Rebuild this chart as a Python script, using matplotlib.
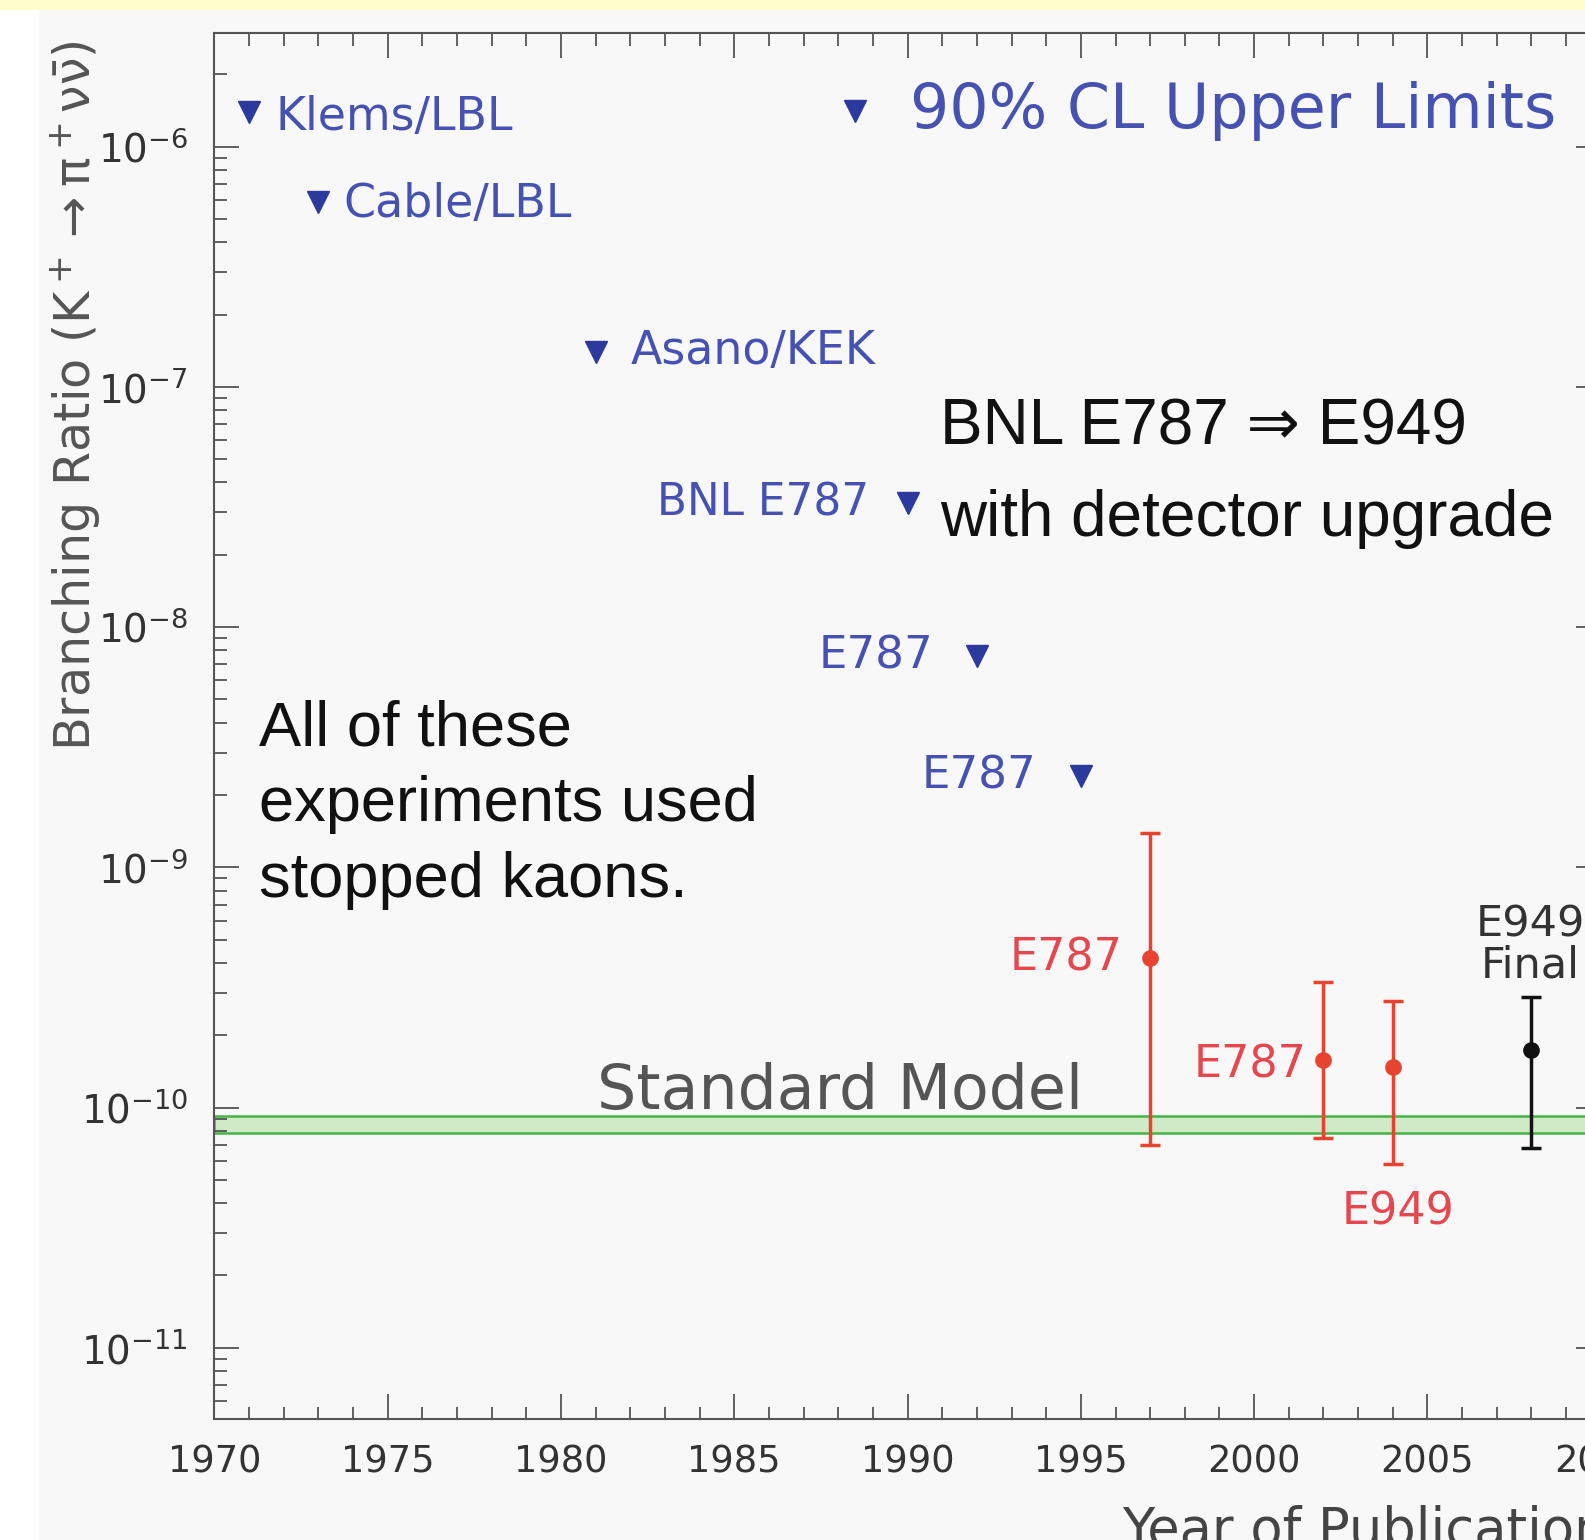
import matplotlib
matplotlib.use('Agg')
import matplotlib.pyplot as plt
import matplotlib.ticker as mticker
from matplotlib.patches import Rectangle

# 90% CL upper limits
ul_years = [1971, 1973, 1981, 1990, 1992, 1995]
ul_values = [1.4e-6, 5.9e-7, 1.4e-7, 3.3e-8, 7.6e-9, 2.4e-9]
ul_labels = ['Klems/LBL', 'Cable/LBL', 'Asano/KEK', 'BNL E787', 'E787', 'E787']

# measured branching ratios (E787 / E949)
meas_years = [1997, 2002, 2004]
meas_values = [4.2e-10, 1.57e-10, 1.47e-10]
meas_up = [9.7e-10, 1.75e-10, 1.30e-10]
meas_down = [3.5e-10, 0.82e-10, 0.89e-10]
meas_labels = ['E787', 'E787', 'E949']

final_year = 2008
final_value = 1.73e-10
final_up = 1.15e-10
final_down = 1.05e-10

sm_low, sm_high = 7.8e-11, 9.2e-11

THIN = ['DejaVu Sans']
BOLDISH = ['Liberation Sans', 'DejaVu Sans']
BLUE_TXT = '#4652b2'
BLUE = '#2b3a9c'
RED_TXT = '#e6474f'
RED = '#e8432e'
GRAY = '#555555'

plt.rcParams['font.family'] = THIN
plt.rcParams['mathtext.default'] = 'regular'

fig = plt.figure(figsize=(15.85, 15.40), dpi=100, facecolor='#f8f8f8')
fig.patches.append(Rectangle((0, 0), 0.0243, 1, transform=fig.transFigure,
                             facecolor='white', edgecolor='none', zorder=-10))
fig.patches.append(Rectangle((0, 0.9934), 1, 0.0066, transform=fig.transFigure,
                             facecolor='#ffffcc', edgecolor='none', zorder=-9))

ax = fig.add_axes([0.1353, 0.0788, 0.8746, 0.8995])
ax.set_facecolor('#f8f8f8')
ax.set_yscale('log')
ax.set_xlim(1970, 2010)
ax.set_ylim(5.07e-12, 2.96e-6)

# standard model band
ax.axhspan(sm_low, sm_high, facecolor='#d0e9c6', edgecolor='#45b345', lw=1.8, zorder=1)
ax.text(0.2757, 0.2234, 'Standard Model', transform=ax.transAxes, fontsize=44.5,
        color=GRAY, ha='left', va='baseline')

# upper limits
ax.plot(ul_years, ul_values, 'v', color=BLUE, ms=16, zorder=3)
offsets = [(19, -4), (18, -2), (25, 0), (-28, 0), (-31, 0), (-32, 0)]
sizes = [33, 33, 33, 31.5, 32.5, 32.5]
for yr, val, lab, off, fs in zip(ul_years, ul_values, ul_labels, offsets, sizes):
    ax.annotate(lab, (yr, val), xytext=off, textcoords='offset points',
                ha='left' if off[0] > 0 else 'right', va='center',
                fontsize=fs, color=BLUE_TXT)

# legend
ax.plot([0.4624], [0.9438], 'v', color=BLUE, ms=16, transform=ax.transAxes,
        clip_on=False)
ax.text(0.5018, 0.9438, '90% CL Upper Limits', transform=ax.transAxes,
        fontsize=44.5, color=BLUE_TXT, ha='left', va='center')

# measurements
lo = [v - d for v, d in zip(meas_values, meas_down)]
ax.errorbar(meas_years, meas_values, yerr=[meas_down, meas_up], fmt='o',
            color=RED, ms=11, elinewidth=2.5, capsize=7, capthick=2.5, zorder=4)
ax.annotate(meas_labels[0], (meas_years[0], meas_values[0]), xytext=(-20, 0),
            textcoords='offset points', ha='right', va='center', fontsize=32, color=RED_TXT)
ax.annotate(meas_labels[1], (meas_years[1], meas_values[1]), xytext=(-12, -3),
            textcoords='offset points', ha='right', va='center', fontsize=32, color=RED_TXT)
ax.annotate(meas_labels[2], (meas_years[2], lo[2]), xytext=(4, -19),
            textcoords='offset points', ha='center', va='top', fontsize=32, color=RED_TXT)

ax.errorbar([final_year], [final_value], yerr=[[final_down], [final_up]], fmt='o',
            color='#111111', ms=11, elinewidth=2.5, capsize=7, capthick=2.5, zorder=4)
ax.annotate('E949\nFinal', (final_year, final_value + final_up), xytext=(-1, 8),
            textcoords='offset points', ha='center', va='bottom', fontsize=31,
            color='#333333', linespacing=0.95)

# black annotations
ax.text(0.5237, 0.7029, 'BNL E787 \u21d2 E949', transform=ax.transAxes,
        fontsize=46, family=BOLDISH, color='#111111', va='baseline')
ax.text(0.5237, 0.6372, 'with detector upgrade', transform=ax.transAxes,
        fontsize=46, family=BOLDISH, color='#111111', va='baseline')
for line, yb in zip(['All of these', 'experiments used', 'stopped kaons.'],
                    [0.4861, 0.4314, 0.3766]):
    ax.text(0.0321, yb, line, transform=ax.transAxes, fontsize=45.5,
            family=BOLDISH, color='#111111', va='baseline')

# axes styling
for s in ax.spines.values():
    s.set_color('#555555')
    s.set_linewidth(1.5)
ax.xaxis.set_major_locator(mticker.MultipleLocator(5))
ax.xaxis.set_minor_locator(mticker.MultipleLocator(1))
ax.yaxis.set_major_locator(mticker.LogLocator(base=10, numticks=20))
ax.yaxis.set_minor_locator(mticker.LogLocator(base=10, subs=range(2, 10), numticks=20))
ax.yaxis.set_minor_formatter(mticker.NullFormatter())
ax.tick_params(which='both', direction='in', top=True, right=True,
               color='#555555', width=1.3)
ax.tick_params(which='major', length=18)
ax.tick_params(which='minor', length=9)
ax.tick_params(axis='x', which='major', labelsize=26.5, pad=18, labelcolor='#333333')
ax.tick_params(axis='y', which='major', labelsize=28, pad=19, labelcolor='#333333')

ax.text(-0.0999, 0.995, r'Branching Ratio (K$^+\rightarrow\pi^+\nu\bar{\nu}$)',
        transform=ax.transAxes, rotation=90, ha='center', va='top',
        fontsize=35.5, color='#555555')
ax.text(0.655, -0.062, 'Year of Publication', transform=ax.transAxes,
        ha='left', va='top', fontsize=38, color='#444444')

fig.savefig('out.png', dpi=100, facecolor=fig.get_facecolor())
